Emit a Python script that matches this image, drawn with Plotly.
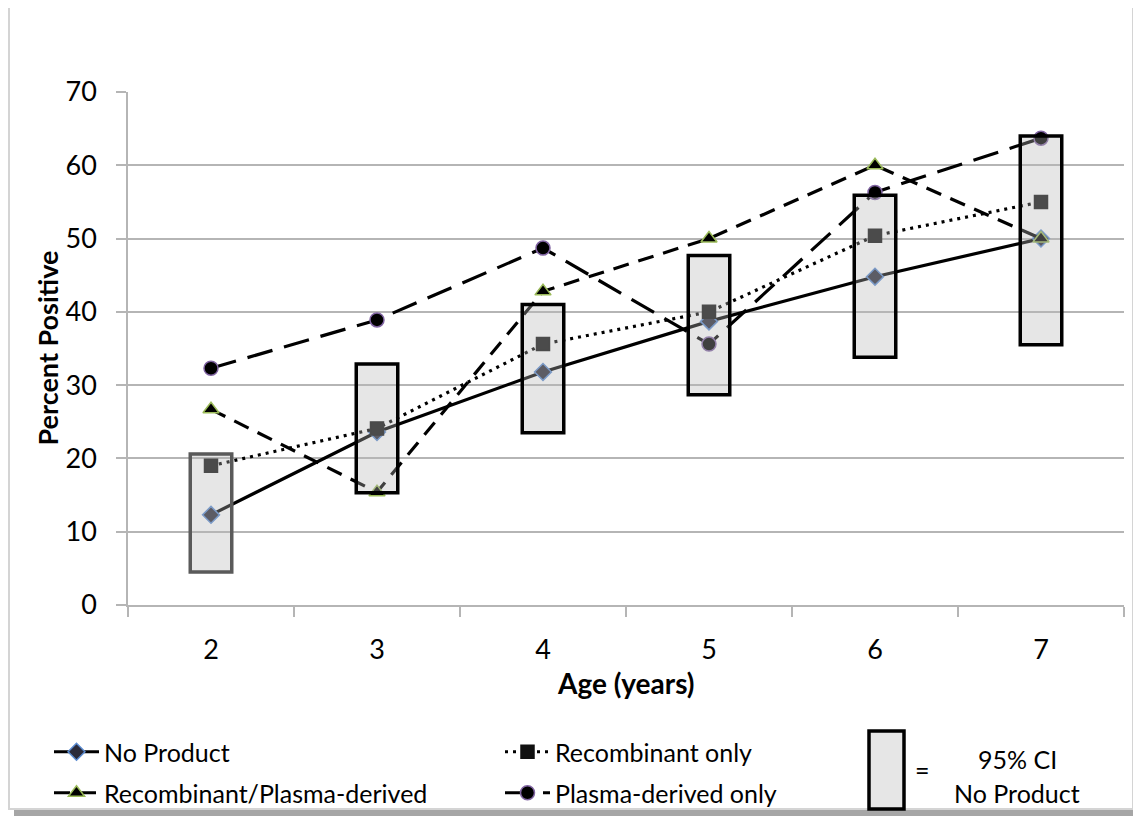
import plotly.graph_objects as go

# ---------------- data ----------------
ages = [2, 3, 4, 5, 6, 7]
no_product = [12.3, 23.6, 31.8, 38.7, 44.8, 50.0]
recombinant_only = [19.0, 24.1, 35.6, 40.0, 50.4, 55.0]
recomb_plasma = [26.7, 15.4, 42.8, 50.0, 60.0, 50.0]
plasma_only = [32.3, 38.9, 48.7, 35.6, 56.3, 63.7]
ci_low = [4.5, 15.3, 23.5, 28.7, 33.8, 35.5]
ci_high = [20.6, 32.9, 41.0, 47.7, 55.9, 64.0]
y_tick_vals = [0, 10, 20, 30, 40, 50, 60, 70]
x_tick_text = ["2", "3", "4", "5", "6", "7"]

FONT = "Lato"
GRID = "#b5b5b5"

fig = go.Figure()

series = [
    ("No Product", no_product, "solid", "diamond", "#2b2b3a", "#5b8bd0", 13, "legend"),
    ("Recombinant only", recombinant_only, "3px,5px", "square", "#111111", "#111111", 13, "legend"),
    ("Recombinant/Plasma-derived", recomb_plasma, "16px,10px", "triangle-up", "#000000", "#9bbb59", 14, "legend2"),
    ("Plasma-derived only", plasma_only, "26px,12px", "circle", "#000000", "#8064a2", 14, "legend2"),
]
for name, vals, dash, sym, fc, lc, size, lg in series:
    fig.add_trace(go.Scatter(
        x=ages, y=vals, name=name, mode="lines+markers",
        line=dict(color="black", width=3.2, dash=dash),
        marker=dict(symbol=sym, size=size, color=fc, line=dict(color=lc, width=1.5)),
        legend=lg,
    ))

# 95% CI boxes, drawn above the lines as a translucent overlay
half_w = 0.125
for i, (a, lo, hi) in enumerate(zip(ages, ci_low, ci_high)):
    fig.add_shape(
        type="rect", xref="x", yref="y",
        x0=a - half_w, x1=a + half_w, y0=lo, y1=hi,
        fillcolor="rgba(183,183,183,0.35)",
        line=dict(color="#5a5a5a" if i == 0 else "black", width=3.5),
        layer="above",
    )

# helpers: reference-pixel -> paper coordinates
def px_x(p):
    return (p - 128) / 996.0

def px_y(p):
    return (605 - p) / 513.0

# chart frame with shadow
fig.add_shape(type="rect", xref="paper", yref="paper",
              x0=px_x(1133), x1=px_x(1139), y0=px_y(10), y1=px_y(816),
              fillcolor="#a6a6a6", line=dict(width=0), layer="below")
fig.add_shape(type="rect", xref="paper", yref="paper",
              x0=px_x(14), x1=px_x(1139), y0=px_y(809), y1=px_y(816),
              fillcolor="#a6a6a6", line=dict(width=0), layer="below")
fig.add_shape(type="rect", xref="paper", yref="paper",
              x0=px_x(9), x1=px_x(1133), y0=px_y(6), y1=px_y(809),
              fillcolor="white", line=dict(color="#d4d4d4", width=2), layer="below")

# legend glyph for the CI box
fig.add_shape(type="rect", xref="paper", yref="paper",
              x0=px_x(869), x1=px_x(904), y0=px_y(731), y1=px_y(809),
              fillcolor="#e6e6e6", line=dict(color="black", width=3.5))

ann_font = dict(family=FONT, size=25, color="black")
fig.add_annotation(xref="paper", yref="paper", x=px_x(922), y=px_y(770),
                   xanchor="center", yanchor="middle",
                   text="=", showarrow=False, font=ann_font)
fig.add_annotation(xref="paper", yref="paper", x=px_x(1017), y=px_y(759),
                   xanchor="center", yanchor="middle",
                   text="95% CI", showarrow=False, font=ann_font)
fig.add_annotation(xref="paper", yref="paper", x=px_x(1017), y=px_y(793),
                   xanchor="center", yanchor="middle",
                   text="No Product", showarrow=False, font=ann_font)

# axis titles
fig.add_annotation(xref="paper", yref="paper", x=0.5, y=px_y(683),
                   xanchor="center", yanchor="middle",
                   text="<b>Age (years)</b>", showarrow=False,
                   font=dict(family=FONT, size=28, color="black"))
fig.add_annotation(xref="paper", yref="paper", x=px_x(47), y=0.5,
                   xanchor="center", yanchor="middle",
                   text="<b>Percent Positive</b>", showarrow=False, textangle=-90,
                   font=dict(family=FONT, size=27, color="black"))

fig.update_xaxes(
    range=[1.5, 7.5], tickvals=ages, ticktext=x_tick_text, ticks="",
    showgrid=False, zeroline=False, showline=True, linecolor=GRID, linewidth=1.5,
    tickfont=dict(family=FONT, size=27, color="black"), ticklabelstandoff=20,
    minor=dict(tick0=1.5, dtick=1, ticks="outside", ticklen=10, tickcolor=GRID, tickwidth=1.5, showgrid=False),
)
fig.update_yaxes(
    range=[0, 70], tickvals=y_tick_vals, ticks="outside", ticklen=10, tickcolor=GRID, tickwidth=1.5,
    showgrid=True, gridcolor=GRID, gridwidth=1.5, zeroline=False,
    showline=True, linecolor=GRID, linewidth=1.5,
    tickfont=dict(family=FONT, size=27, color="black"), ticklabelstandoff=14,
)

legend_common = dict(orientation="h", xanchor="left", yanchor="middle",
                     entrywidth=391, entrywidthmode="pixels",
                     font=dict(family=FONT, size=25, color="black"),
                     bgcolor="rgba(0,0,0,0)", itemwidth=45)
fig.update_layout(
    width=1133, height=812,
    margin=dict(l=120, r=17, t=84, b=215, autoexpand=False),
    paper_bgcolor="white", plot_bgcolor="rgba(0,0,0,0)",
    font=dict(family=FONT, color="black"),
    showlegend=True,
    legend=dict(x=px_x(49), y=px_y(752), **legend_common),
    legend2=dict(x=px_x(49), y=px_y(793), **legend_common),
)

fig.write_html("out.html")
